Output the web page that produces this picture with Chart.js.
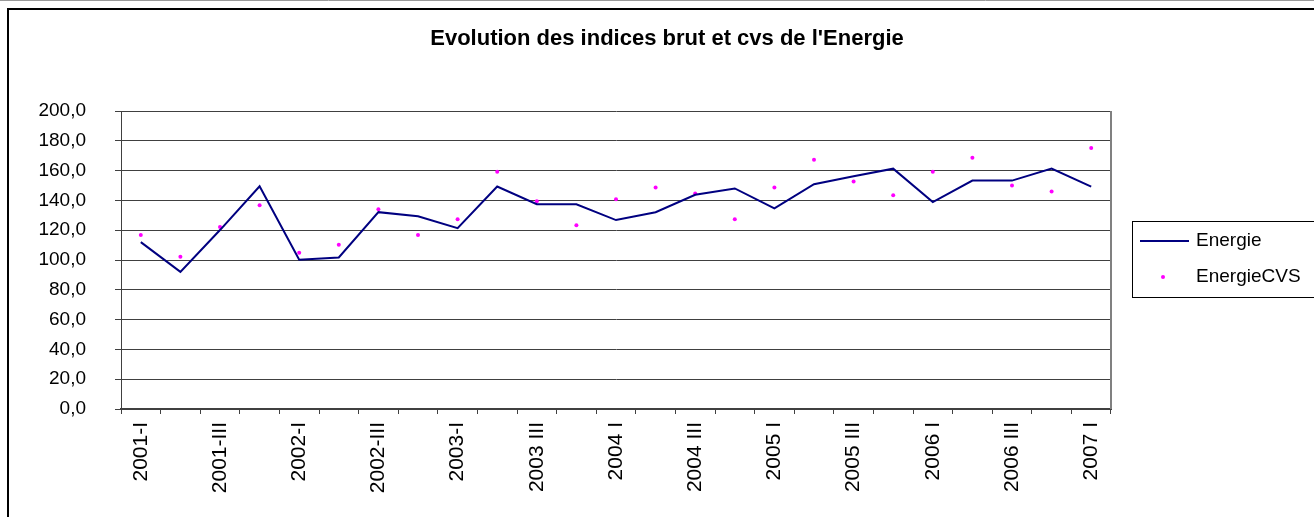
<!DOCTYPE html>
<html>
<head>
<meta charset="utf-8">
<script src="https://cdn.jsdelivr.net/npm/chart.js@4/dist/chart.umd.min.js"></script>
<style>
  html, body { margin: 0; padding: 0; background: #fff; }
  #wrap { width: 1314px; height: 517px; position: relative; }
</style>
</head>
<body>
<div id="wrap"><canvas id="c"></canvas></div>
<script>
const title = "Evolution des indices brut et cvs de l'Energie";
const categories = ['2001-I','2001-II','2001-III','2001-IV','2002-I','2002-II','2002-III','2002-IV',
  '2003-I','2003-II','2003 III','2003 IV','2004 I','2004 II','2004 III','2004 IV',
  '2005 I','2005 II','2005 III','2005 IV','2006 I','2006 II','2006 III','2006 IV','2007 I'];
const energie = [112.0, 92.0, 120.1, 149.5, 100.2, 101.7, 132.1, 129.4,
  121.4, 149.3, 137.4, 137.4, 126.8, 132.1, 143.8, 148.0,
  134.7, 150.9, 156.2, 161.3, 138.9, 153.3, 153.3, 161.3, 149.3];
const energieCVS = [116.8, 102.2, 122.1, 136.7, 104.8, 110.2, 134.1, 116.8,
  127.4, 159.3, 139.4, 123.4, 140.7, 148.7, 144.7, 127.4,
  148.7, 167.3, 152.7, 143.4, 159.3, 168.6, 150.0, 146.0, 175.2];
const seriesNames = ['Energie', 'EnergieCVS'];
const yTicks = { min: 0, max: 200, step: 20 };

const FONT = "'Liberation Sans', Arial, sans-serif";

const framePlugin = {
  id: 'frame',
  beforeDraw(chart) {
    const ctx = chart.ctx;
    ctx.save();
    ctx.fillStyle = '#fff';
    ctx.fillRect(0, 0, chart.width, chart.height);
    ctx.strokeStyle = '#9a9a9a';
    ctx.lineWidth = 1;
    ctx.beginPath(); ctx.moveTo(0, 0.5); ctx.lineTo(chart.width, 0.5); ctx.stroke();
    ctx.strokeStyle = '#000';
    ctx.lineWidth = 2;
    ctx.beginPath();
    ctx.moveTo(8, chart.height + 2); ctx.lineTo(8, 9); ctx.lineTo(chart.width + 2, 9);
    ctx.stroke();
    ctx.restore();
  },
  afterDraw(chart) {
    const ctx = chart.ctx;
    const a = chart.chartArea;
    ctx.save();
    // plot area right border
    ctx.strokeStyle = '#808080';
    ctx.lineWidth = 2;
    ctx.beginPath(); ctx.moveTo(a.right, a.top); ctx.lineTo(a.right, a.bottom); ctx.stroke();
    // title
    ctx.fillStyle = '#000';
    ctx.font = "bold 22px " + FONT;
    ctx.textAlign = 'center';
    ctx.textBaseline = 'middle';
    ctx.fillText(title, 667, 39);
    // legend
    ctx.strokeStyle = '#000';
    ctx.lineWidth = 1;
    ctx.strokeRect(1132.5, 221.5, 200, 76);
    ctx.strokeStyle = '#000080';
    ctx.lineWidth = 2;
    ctx.beginPath(); ctx.moveTo(1140, 241); ctx.lineTo(1189, 241); ctx.stroke();
    ctx.fillStyle = '#FF00FF';
    ctx.beginPath(); ctx.arc(1163, 277, 2, 0, Math.PI * 2); ctx.fill();
    ctx.fillStyle = '#000';
    ctx.font = "19px " + FONT;
    ctx.textAlign = 'left';
    ctx.fillText(seriesNames[0], 1196, 241);
    ctx.fillText(seriesNames[1], 1196, 277);
    ctx.restore();
  }
};

new Chart(document.getElementById('c'), {
  type: 'line',
  data: {
    labels: categories,
    datasets: [
      { label: seriesNames[0], data: energie, borderColor: '#000080', backgroundColor: '#000080',
        borderWidth: 2, pointRadius: 0, tension: 0, fill: false },
      { label: seriesNames[1], data: energieCVS, showLine: false, pointRadius: 2,
        pointBorderWidth: 0, pointBackgroundColor: '#FF00FF', pointBorderColor: '#FF00FF',
        borderColor: '#FF00FF', backgroundColor: '#FF00FF' }
    ]
  },
  options: {
    responsive: true,
    maintainAspectRatio: false,
    animation: false,
    layout: { padding: { left: 0, top: 111, right: 203, bottom: 0 } },
    plugins: { legend: { display: false }, title: { display: false }, tooltip: { enabled: false } },
    scales: {
      x: {
        offset: true,
        grid: { offset: true, drawOnChartArea: false, drawTicks: true, tickLength: 5, color: '#404040' },
        border: { display: true, color: '#404040', width: 2 },
        ticks: {
          autoSkip: false, minRotation: 90, maxRotation: 90, padding: 8,
          color: '#000', font: { family: FONT, size: 21 },
          callback: function (v, i) { return i % 2 === 0 ? this.getLabelForValue(v) : ''; }
        },
        afterFit: (s) => { s.height = 108; }
      },
      y: {
        min: yTicks.min, max: yTicks.max,
        grid: { color: '#404040', lineWidth: 1, tickLength: 6, drawTicks: true },
        border: { display: true, color: '#404040', width: 1 },
        ticks: {
          stepSize: yTicks.step, padding: 29, color: '#000',
          font: { family: FONT, size: 19 },
          callback: (v) => v.toFixed(1).replace('.', ',')
        },
        afterFit: (s) => { s.width = 121; }
      }
    }
  },
  plugins: [framePlugin]
});
</script>
</body>
</html>
